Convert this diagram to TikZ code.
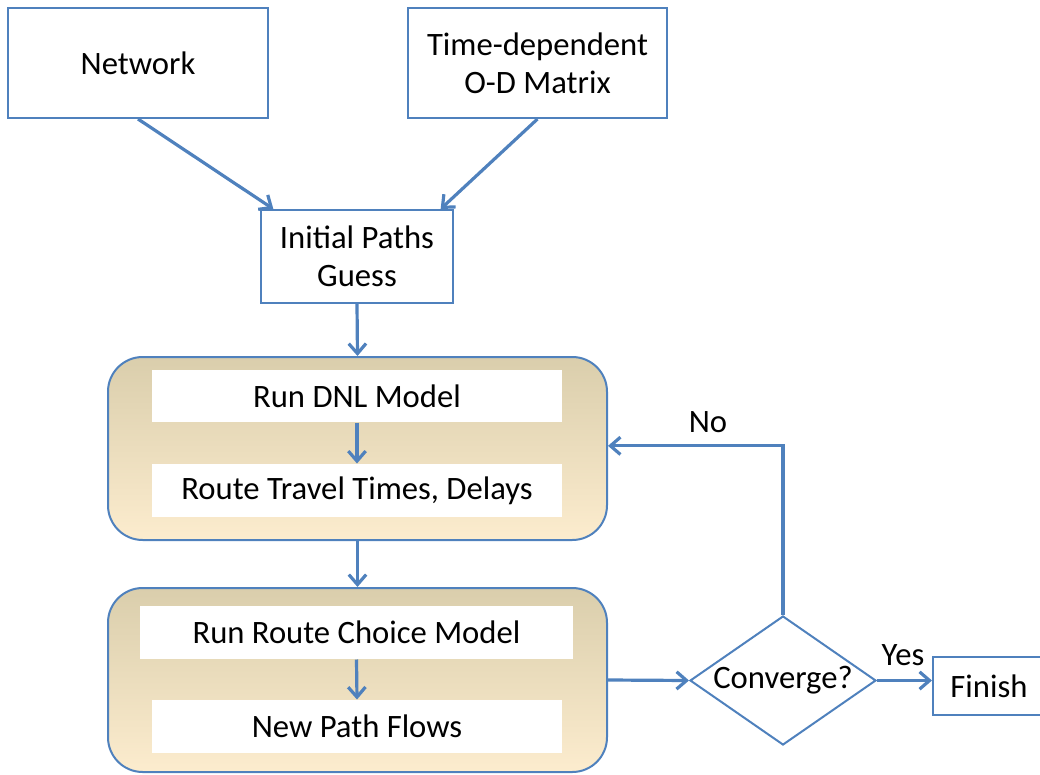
\documentclass[tikz,border=0pt]{standalone}
\usepackage{fontspec}
\setmainfont{Carlito}
\usetikzlibrary{arrows.meta,shapes.geometric}

\definecolor{lineblue}{RGB}{79,129,189}
\definecolor{tantop}{RGB}{218,206,172}
\definecolor{tanmid}{RGB}{244,238,222}
\definecolor{tanbot}{RGB}{252,236,206}

\tikzset{every picture/.style={line width=0.75pt}}
\tikzset{
  inbox/.style={draw=lineblue, line width=1.5pt, fill=white, align=center,
    font=\fontsize{24.5}{28.5}\selectfont, inner sep=0pt},
  stagebox/.style={draw=lineblue, line width=1.5pt, rounded corners=26pt,
    top color=tantop, middle color=tanmid, bottom color=tanbot, inner sep=0pt},
  stepbar/.style={fill=white, inner sep=0pt, font=\fontsize{24.5}{28.5}\selectfont},
  flow/.style={draw=lineblue, line width=2.4pt,
    -{Straight Barb[length=7.5pt,width=13pt,line width=2.4pt]}},
  plain/.style={font=\fontsize{24.5}{28.5}\selectfont, inner sep=0pt}
}

\begin{document}
\begin{tikzpicture}[x=0.75pt,y=0.75pt,yscale=-1,xscale=1]
\path[use as bounding box] (0,0) rectangle (1040,775);

%Shape: Rectangle [inputs]
\node (net) [inbox, minimum width=195pt, minimum height=82.5pt] at (138,63) {Network};
\node (tod) [inbox, minimum width=194pt, minimum height=82.5pt] at (537.5,63) {Time-dependent\\O-D Matrix};
\node (ini) [inbox, minimum width=144pt, minimum height=69.75pt] at (357,256.5) {Initial Paths\\Guess};

%Shape: Rounded Rectangle [loading stage]
\node (sim) [stagebox, minimum width=374.25pt, minimum height=137.25pt] at (357.5,448.5) {};
\node (dnl) [stepbar, minimum width=307.5pt, minimum height=39pt] at (357,396) {Run DNL Model};
\node (rtt) [stepbar, minimum width=307.5pt, minimum height=39.75pt] at (357,490.5) {Route Travel Times, Delays};

%Shape: Rounded Rectangle [choice stage]
\node (chc) [stagebox, minimum width=374.25pt, minimum height=138pt] at (357.5,680) {};
\node (rcm) [stepbar, minimum width=324.75pt, minimum height=39.75pt] at (356.5,632.5) {Run Route Choice Model};
\node (npf) [stepbar, minimum width=307.5pt, minimum height=39.75pt] at (357,726.5) {New Path Flows};

%Shape: Diamond
\node (cvg) [diamond, aspect=1.44, draw=lineblue, line width=1.5pt, fill=white, inner sep=0pt,
  minimum width=139.5pt, minimum height=96.75pt, font=\fontsize{24.5}{28.5}\selectfont] at (783,680.5) {Converge?};

%Shape: Rectangle [end]
\node (fin) [inbox, minimum width=84pt, minimum height=43.5pt, anchor=west] at (932,686) {Finish};

%Straight Lines
\draw [flow] (net.south) -- ([xshift=10pt]ini.north west);
\draw [flow] (tod.south) -- ([xshift=-10pt]ini.north east);
\draw [flow] (ini.south) -- (sim.north);
\draw [flow] (dnl.south) -- (rtt.north);
\draw [flow] (sim.south) -- (chc.north);
\draw [flow] (rcm.south) -- (npf.north);
\draw [flow] (chc.east) -- (cvg.west);
\draw [flow] (cvg.east) -- (cvg.east -| fin.west);
\draw [flow] (cvg.north) |- ([yshift=-2pt]sim.east);

% Text Node
\node (no) [plain] at (708,422) {No};
\node (yes) [plain] at (903,655) {Yes};

\end{tikzpicture}
\end{document}
